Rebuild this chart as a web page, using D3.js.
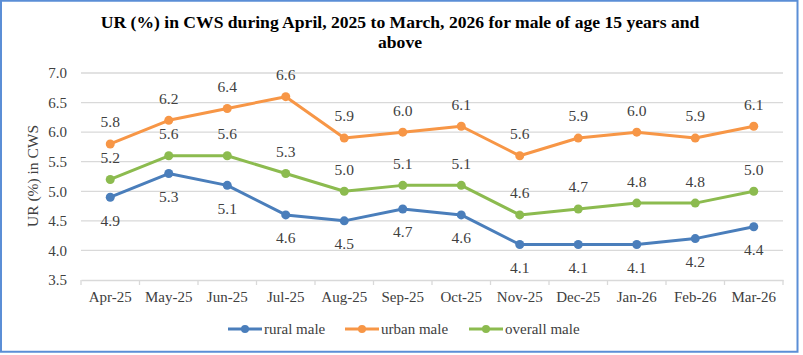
<!DOCTYPE html>
<html><head><meta charset="utf-8">
<script src="https://cdn.jsdelivr.net/npm/d3@7"></script>
<style>body{margin:0;background:#fff;}svg{display:block;} svg text{font-family:"Liberation Serif","Times New Roman",Times,"DejaVu Serif",serif !important;}</style>
</head><body><svg id="c" width="803" height="355"></svg>
<script>
const categories = ["Apr-25","May-25","Jun-25","Jul-25","Aug-25","Sep-25","Oct-25","Nov-25","Dec-25","Jan-26","Feb-26","Mar-26"];
const rural = [4.9,5.3,5.1,4.6,4.5,4.7,4.6,4.1,4.1,4.1,4.2,4.4];
const urban = [5.8,6.2,6.4,6.6,5.9,6.0,6.1,5.6,5.9,6.0,5.9,6.1];
const overall = [5.2,5.6,5.6,5.3,5.0,5.1,5.1,4.6,4.7,4.8,4.8,5.0];
const yTicks = [3.5,4.0,4.5,5.0,5.5,6.0,6.5,7.0];
const seriesNames = ["rural male","urban male","overall male"];
const seriesColors = ["#4a7ebb","#f79646","#8cbb4f"];

const svg = d3.select("#c");
svg.append("rect").attr("x",1).attr("y",0.75).attr("width",796.5).attr("height",351).attr("fill","#fff").attr("stroke","#5b8ed6").attr("stroke-width",2);

const x = d3.scaleBand().domain(categories).range([81,783]);
const y = d3.scaleLinear().domain([3.5,7.0]).range([280,73]);

// gridlines
svg.append("g").selectAll("line").data(yTicks.filter(d=>d>3.5)).join("line")
  .attr("x1",81).attr("x2",783).attr("y1",d=>y(d)).attr("y2",d=>y(d))
  .attr("stroke","#d9d9d9").attr("stroke-width",1.3);

// y axis labels
const ya = svg.append("g").attr("transform","translate(81,0)").call(d3.axisLeft(y).tickValues(yTicks).tickFormat(d3.format(".1f")).tickSize(0).tickPadding(14));
ya.select(".domain").remove();
ya.selectAll("text").attr("font-size",15).attr("fill","#404040");

// x axis
const xa = svg.append("g").attr("transform","translate(0,280)").call(d3.axisBottom(x).tickSize(0).tickPadding(11));
xa.select(".domain").attr("stroke","#d9d9d9").attr("stroke-width",1.3);
xa.selectAll("text").attr("font-size",15).attr("fill","#404040");
svg.append("g").selectAll("line").data(d3.range(categories.length+1)).join("line")
  .attr("x1",i=>81+i*x.step()).attr("x2",i=>81+i*x.step()).attr("y1",280).attr("y2",285)
  .attr("stroke","#d9d9d9").attr("stroke-width",1.3);

const cx = d=>x(d)+x.bandwidth()/2;
const data = [rural,urban,overall];
const line = d3.line().x((d,i)=>cx(categories[i])).y(d=>y(d));
const offs = [23,-22,-22];
data.forEach((vals,s)=>{
  svg.append("path").datum(vals).attr("d",line).attr("fill","none").attr("stroke",seriesColors[s]).attr("stroke-width",3).attr("stroke-linejoin","round");
  svg.append("g").selectAll("circle").data(vals).join("circle")
    .attr("cx",(d,i)=>cx(categories[i])).attr("cy",d=>y(d)).attr("r",4.5).attr("fill",seriesColors[s]);
  svg.append("g").selectAll("text").data(vals).join("text")
    .attr("x",(d,i)=>cx(categories[i])).attr("y",d=>y(d)+offs[s]).attr("dy","0.35em")
    .attr("text-anchor","middle").attr("font-size",15.5).attr("fill","#404040")
    .text(d=>d.toFixed(1));
});

// title
const t = svg.append("text").attr("text-anchor","middle").attr("font-weight","bold").attr("font-size",17.6).attr("fill","#000");
t.append("tspan").attr("x",400).attr("y",28).text("UR (%) in CWS during April, 2025 to March, 2026 for male of age 15 years and");
t.append("tspan").attr("x",400).attr("y",48).text("above");

// y title
svg.append("text").attr("transform","translate(38,176) rotate(-90)").attr("text-anchor","middle")
  .attr("font-size",15.5).attr("fill","#404040").text("UR (%) in CWS");

// legend
const legX = [228,345,469];
seriesNames.forEach((n,s)=>{
  const g = svg.append("g").attr("transform",`translate(${legX[s]},329)`);
  g.append("line").attr("x1",0).attr("x2",34).attr("y1",0).attr("y2",0).attr("stroke",seriesColors[s]).attr("stroke-width",3);
  g.append("circle").attr("cx",17).attr("cy",0).attr("r",4).attr("fill",seriesColors[s]);
  g.append("text").attr("x",36).attr("y",0).attr("dy","0.35em").attr("font-size",15).attr("fill","#404040").text(n);
});
</script></body></html>
